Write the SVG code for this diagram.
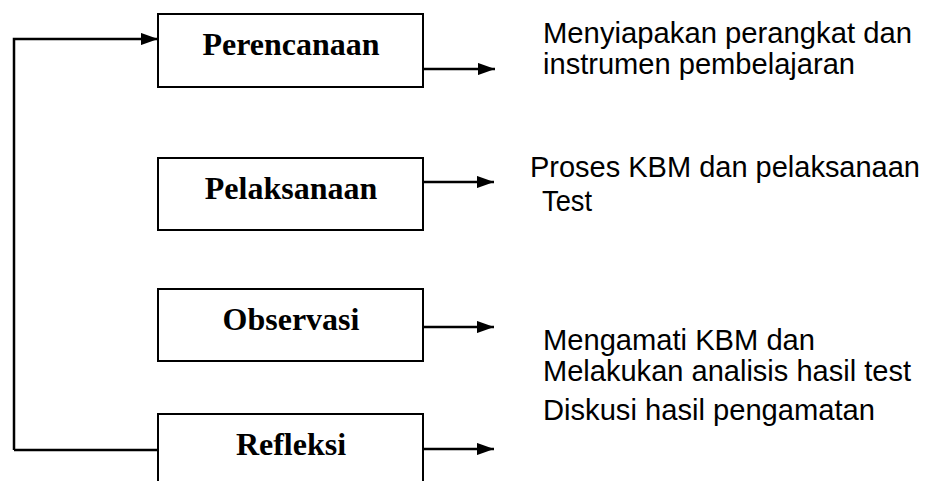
<svg xmlns="http://www.w3.org/2000/svg" width="926" height="481" viewBox="0 0 926 481">
<defs>
<marker id="ah" markerWidth="7" markerHeight="5" refX="7" refY="2.5" orient="auto" markerUnits="strokeWidth">
<path d="M0,0 L7,2.5 L0,5 Z" fill="#000"/>
</marker>
<style>
.box{fill:#fff;stroke:#000;stroke-width:2}
.lbl{font-family:"Liberation Serif","Times New Roman",serif;font-weight:bold;font-size:32px;text-anchor:middle;fill:#000}
.note{font-family:"Liberation Sans",Arial,sans-serif;font-size:29px;fill:#000}
.ln{fill:none;stroke:#000;stroke-width:2.5}
</style>
</defs>
<rect width="926" height="481" fill="#fff"/>
<g id="connectors">
<path class="ln" d="M14,450 L14,39 L158,39" marker-end="url(#ah)"/>
<path class="ln" d="M14,450 L158,450"/>
<path class="ln" d="M423,69 L495,69" marker-end="url(#ah)"/>
<path class="ln" d="M423,182 L494,182" marker-end="url(#ah)"/>
<path class="ln" d="M423,327 L494,327" marker-end="url(#ah)"/>
<path class="ln" d="M423,449 L494,449" marker-end="url(#ah)"/>
</g>
<g id="perencanaan">
<rect class="box" x="158" y="14" width="265" height="73"/>
<text class="lbl" x="291" y="55">Perencanaan</text>
</g>
<g id="pelaksanaan">
<rect class="box" x="158" y="158" width="265" height="72"/>
<text class="lbl" x="291" y="199">Pelaksanaan</text>
</g>
<g id="observasi">
<rect class="box" x="158" y="289" width="265" height="72"/>
<text class="lbl" x="291" y="330">Observasi</text>
</g>
<g id="refleksi">
<rect class="box" x="158" y="414" width="265" height="100"/>
<text class="lbl" x="291" y="455">Refleksi</text>
</g>
<g id="notes">
<text class="note" x="543" y="43" textLength="369" lengthAdjust="spacingAndGlyphs">Menyiapakan perangkat dan</text>
<text class="note" x="543" y="74" textLength="312" lengthAdjust="spacingAndGlyphs">instrumen pembelajaran</text>
<text class="note" x="530" y="177" textLength="390" lengthAdjust="spacingAndGlyphs">Proses KBM dan pelaksanaan</text>
<text class="note" x="542" y="211" textLength="50" lengthAdjust="spacingAndGlyphs">Test</text>
<text class="note" x="543" y="350" textLength="272" lengthAdjust="spacingAndGlyphs">Mengamati KBM dan</text>
<text class="note" x="543" y="381" textLength="368" lengthAdjust="spacingAndGlyphs">Melakukan analisis hasil test</text>
<text class="note" x="543" y="420" textLength="332" lengthAdjust="spacingAndGlyphs">Diskusi hasil pengamatan</text>
</g>
</svg>
